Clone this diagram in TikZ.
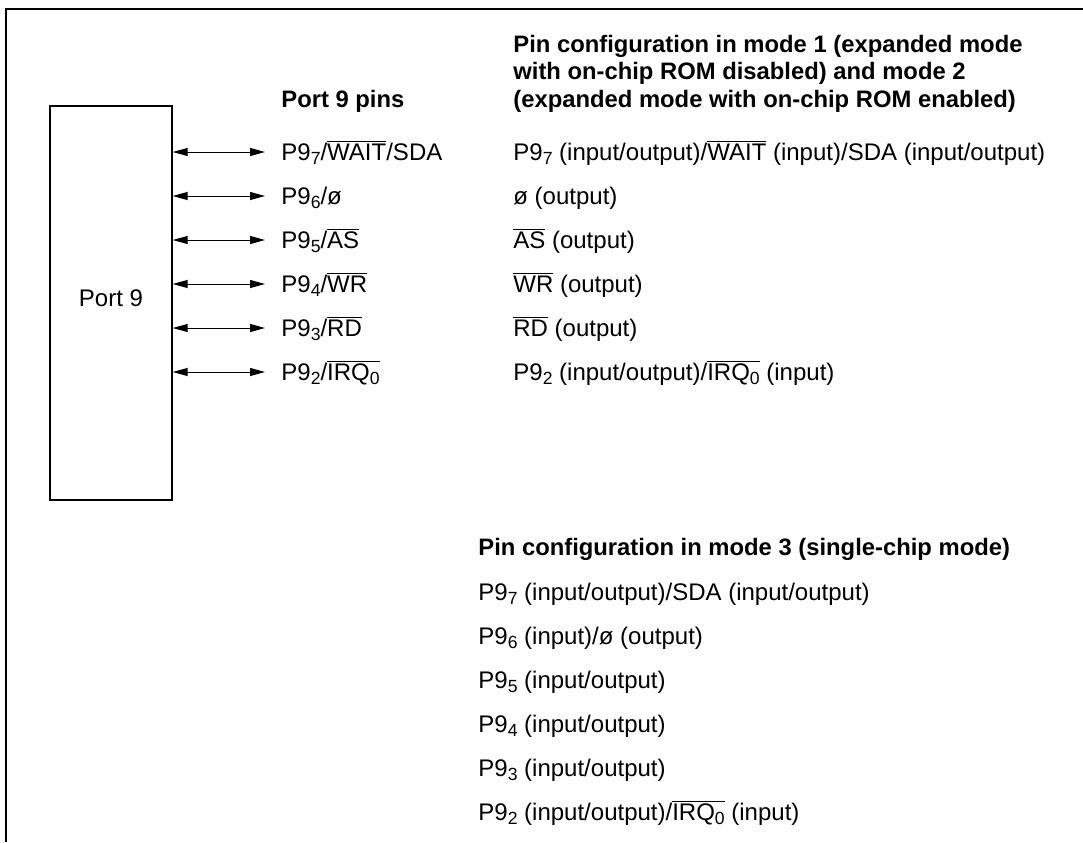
\documentclass[tikz,border=0pt]{standalone}
\usepackage{fontspec}
\setmainfont{Liberation Sans}
\usetikzlibrary{arrows.meta}

\newcommand{\ovl}[1]{$\overline{\mbox{#1}}$}
\newcommand{\sbs}[1]{\raisebox{-0.3ex}{\fontsize{8.8}{8.8}\selectfont #1}}

\begin{document}
\begin{tikzpicture}[x=0.5pt,y=-0.5pt,
    txt/.style={anchor=west,inner sep=0pt,text height=8.6pt,text depth=0pt,
      font=\fontsize{12}{13.75}\selectfont},
    hdr/.style={anchor=base west,inner sep=0pt,align=left,
      font=\fontsize{11.9}{13.75}\selectfont\bfseries},
    pinarrow/.style={{Triangle[length=7.5pt,width=4pt]}-{Triangle[length=7.5pt,width=4pt]},line width=0.5pt}]
\useasboundingbox (0,0) rectangle (1083,842);
% frame
\draw[line width=1pt] (6,842) -- (6,9) -- (1083,9);
% port block
\node[draw,line width=0.7pt,minimum width=61pt,minimum height=197pt,inner sep=0pt] (port) at (111,303) {};
\node[txt,anchor=center] (portname) at (111,298) {Port 9};

% headings
\node[hdr] (pinhead) at (281,107) {Port 9 pins};
\node[hdr] (modeab) at (513,107) {Pin configuration in mode 1 (expanded mode\\with on-chip ROM disabled) and mode 2\\(expanded mode with on-chip ROM enabled)};
\node[hdr] (modec) at (478,555) {Pin configuration in mode 3 (single-chip mode)};

% pins
\node[txt] (p7) at (281,152) {P9\sbs{7}/\ovl{WAIT}/SDA};
\node[txt] (p6) at (281,196) {P9\sbs{6}/ø};
\node[txt] (p5) at (281,240) {P9\sbs{5}/\ovl{AS}};
\node[txt] (p4) at (281,284) {P9\sbs{4}/\ovl{WR}};
\node[txt] (p3) at (281,328) {P9\sbs{3}/\ovl{RD}};
\node[txt] (p2) at (281,372) {P9\sbs{2}/\ovl{IRQ\sbs{0}}};

\foreach \p in {p7,p6,p5,p4,p3,p2}
  \draw[pinarrow] (port.east |- \p.west) -- ([xshift=-8pt]\p.west);

% modes 1 and 2
\node[txt] (ab7) at (513,152) {P9\sbs{7} (input/output)/\ovl{WAIT} (input)/SDA (input/output)};
\node[txt] (ab6) at (513,196) {ø (output)};
\node[txt] (ab5) at (513,240) {\ovl{AS} (output)};
\node[txt] (ab4) at (513,284) {\ovl{WR} (output)};
\node[txt] (ab3) at (513,328) {\ovl{RD} (output)};
\node[txt] (ab2) at (513,372) {P9\sbs{2} (input/output)/\ovl{IRQ\sbs{0}} (input)};

% mode 3
\node[txt] (c7) at (478,592) {P9\sbs{7} (input/output)/SDA (input/output)};
\node[txt] (c6) at (478,636) {P9\sbs{6} (input)/ø (output)};
\node[txt] (c5) at (478,680) {P9\sbs{5} (input/output)};
\node[txt] (c4) at (478,724) {P9\sbs{4} (input/output)};
\node[txt] (c3) at (478,768) {P9\sbs{3} (input/output)};
\node[txt] (c2) at (478,812) {P9\sbs{2} (input/output)/\ovl{IRQ\sbs{0}} (input)};
\end{tikzpicture}
\end{document}
